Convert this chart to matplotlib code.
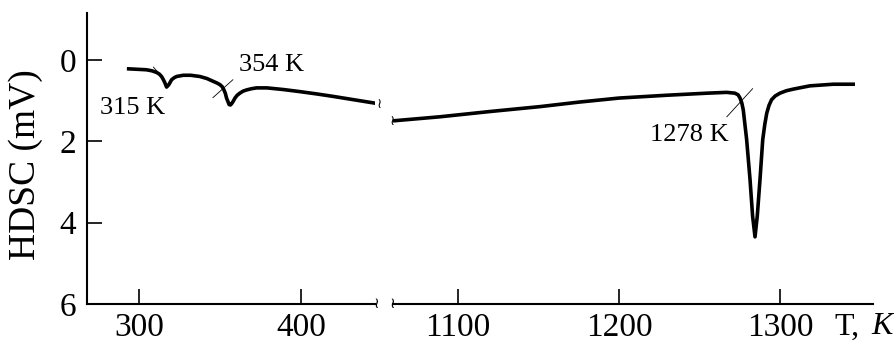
import matplotlib.pyplot as plt

plt.rcParams['font.family'] = ['Liberation Serif', 'DejaVu Serif']

# low temperature branch (K, mV)
t_low = [292.6, 300, 304.7, 308, 310.9, 312.6, 314, 315, 316, 317.1, 318.5, 320.2,
         321.8, 323.3, 327.4, 332, 337.6, 342, 345.9, 348.2, 350, 351.4, 352.5,
         353.4, 354.1, 355, 355.7, 356.5, 357.2, 358.2, 359.3, 360.7, 362.3,
         364.3, 366.5, 369.5, 372.7, 379, 389, 399, 410, 420, 434, 448]
v_low = [0.22, 0.235, 0.245, 0.27, 0.31, 0.35, 0.41, 0.48, 0.56, 0.67, 0.61, 0.49,
         0.44, 0.41, 0.38, 0.38, 0.41, 0.46, 0.53, 0.57, 0.61, 0.66, 0.74,
         0.83, 0.94, 1.03, 1.10, 1.11, 1.08, 1.02, 0.94, 0.87, 0.82,
         0.77, 0.74, 0.71, 0.69, 0.69, 0.73, 0.78, 0.84, 0.9, 0.99, 1.08]

# high temperature branch
t_high = [1059.6, 1088.8, 1120, 1151, 1175, 1200, 1230, 1254.7, 1266.9, 1272,
          1274, 1275.2, 1276.3, 1277.2, 1279.3, 1281.4, 1283, 1284.5, 1285.9, 1287.6,
          1289.3, 1290.6, 1291.8, 1293.2, 1294.8, 1297, 1300, 1304, 1308.3, 1318.6,
          1333.1, 1346.6]
v_high = [1.5, 1.40, 1.27, 1.15, 1.04, 0.94, 0.87, 0.82, 0.80, 0.82,
          0.86, 0.94, 1.06, 1.23, 1.96, 2.94, 3.84, 4.35, 3.84, 2.94,
          1.96, 1.58, 1.31, 1.12, 0.98, 0.89, 0.82, 0.76, 0.72, 0.64,
          0.60, 0.60]

low_ticks = [300, 400]
high_ticks = [1100, 1200, 1300]
y_ticks = [0, 2, 4, 6]

fig = plt.figure(figsize=(8.95, 3.47), dpi=100)
ax1 = fig.add_axes([87 / 895, 1 - 304 / 347, 288 / 895, 291 / 347])
ax2 = fig.add_axes([393 / 895, 1 - 304 / 347, 480 / 895, 291 / 347])

for ax in (ax1, ax2):
    ax.set_ylim(6, -1.15)
    ax.spines['top'].set_visible(False)
    ax.spines['right'].set_visible(False)
    ax.spines['bottom'].set_linewidth(1.5)
    ax.spines['left'].set_linewidth(1.5)
    ax.tick_params(axis='x', direction='in', length=11, width=1.2, pad=6, labelsize=24)
    ax.tick_params(axis='y', direction='in', length=11, width=1.2, pad=8, labelsize=24)

ax1.plot(t_low, v_low, color='black', lw=2.6, solid_capstyle='butt',
         solid_joinstyle='round')
ax1.set_xlim(268, 445.7)
ax1.set_xticks(low_ticks)
ax1.set_yticks(y_ticks)
ax1.set_ylabel('HDSC (mV)', fontsize=27)
ax1.yaxis.set_label_coords(-0.152, 0.478)

ax2.plot(t_high, v_high, color='black', lw=2.6, solid_capstyle='butt',
         solid_joinstyle='round')
ax2.set_xlim(1059.6, 1357.8)
ax2.set_xticks(high_ticks)
ax2.spines['left'].set_visible(False)
ax2.set_yticks([])

# break marks
ax1.text(1.005, 0, '≀', transform=ax1.transAxes, ha='center', va='center',
         fontsize=11, family=['DejaVu Sans'])
ax2.text(-0.002, 0, '≀', transform=ax2.transAxes, ha='center', va='center',
         fontsize=11, family=['DejaVu Sans'])
ax1.text(t_low[-1] + 0.5, v_low[-1], '≀', ha='center', va='center',
         fontsize=10, family=['DejaVu Sans'])
ax2.text(t_high[0] - 0.5, v_high[0], '≀', ha='center', va='center',
         fontsize=10, family=['DejaVu Sans'])

# annotations
ax1.plot([309, 316], [0.18, 0.50], color='black', lw=0.6)
ax1.text(316, 1.18, '315 K', fontsize=19, ha='right', va='center')
ax1.plot([345.7, 358], [0.93, 0.49], color='black', lw=0.6)
ax1.text(362, 0.12, '354 K', fontsize=19, ha='left', va='center')
ax2.plot([1267, 1283], [1.40, 0.71], color='black', lw=0.6)
ax2.text(1268, 1.84, '1278 K', fontsize=19, ha='right', va='center')

fig.text(834 / 895, 1 - 327 / 347, 'T,', fontsize=23, ha='left', va='center')
fig.text(871 / 895, 1 - 327 / 347, 'K', fontsize=23, ha='left', va='center', style='italic')

fig.savefig('out.png', dpi=100)
